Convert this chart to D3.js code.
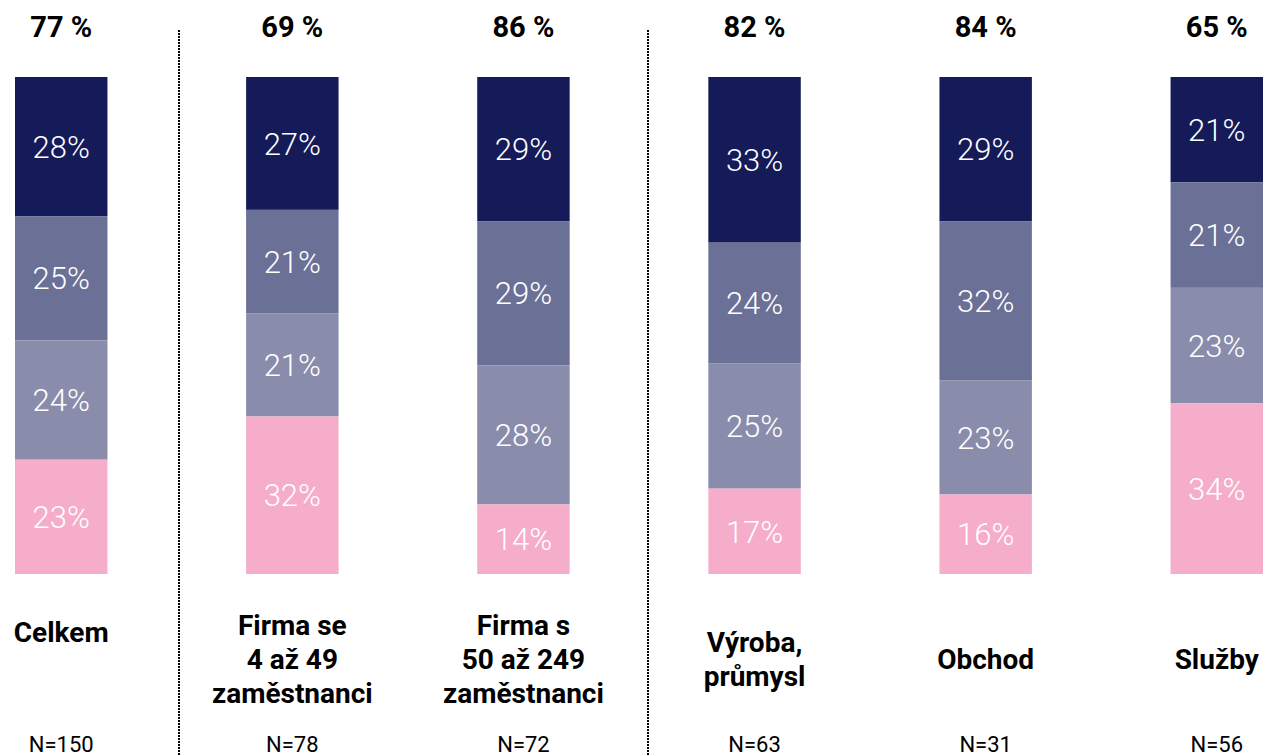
<!DOCTYPE html>
<html>
<head>
<meta charset="utf-8">
<script src="https://cdn.jsdelivr.net/npm/d3@7"></script>
<style>
  body { margin: 0; background: #fff; }
  svg { display: block; }
</style>
</head>
<body>
<div class="container"></div>
<script>
const categories = [
    ["Celkem"],
    ["Firma se", "4 až 49", "zaměstnanci"],
    ["Firma s", "50 až 249", "zaměstnanci"],
    ["Výroba,", "průmysl"],
    ["Obchod"],
    ["Služby"]
];
const totals = ["77 %", "69 %", "86 %", "82 %", "84 %", "65 %"];
const counts = ["N=150", "N=78", "N=72", "N=63", "N=31", "N=56"];

// segments from top to bottom
const seg1 = [28, 27, 29, 33, 29, 21];
const seg2 = [25, 21, 29, 24, 32, 21];
const seg3 = [24, 21, 28, 25, 23, 23];
const seg4 = [23, 32, 14, 17, 16, 34];

const colors = ["#141b58", "#6b7097", "#8a8cac", "#f5adca"];

const width = 1265;
const height = 756;

const svg = d3.select("div.container")
    .append("svg")
    .attr("width", width)
    .attr("height", height);

const x = d3.scaleBand()
    .domain(d3.range(categories.length))
    .range([15, 1263])
    .paddingInner(0.6)
    .paddingOuter(0);

const barTop = 77, barBottom = 574;
const sepX = [179, 648];

// dotted separators
sepX.forEach(function(sx) {
    svg.append("line")
        .attr("x1", sx).attr("x2", sx)
        .attr("y1", 30).attr("y2", height)
        .attr("stroke", "#000")
        .attr("stroke-width", 2)
        .attr("stroke-dasharray", "2,1");
});

const rows = categories.map((c, i) => ({
    i: i,
    vals: [seg1[i], seg2[i], seg3[i], seg4[i]]
}));

rows.forEach(function(r) {
    const sum = d3.sum(r.vals);
    const y = d3.scaleLinear().domain([0, sum]).range([barTop, barBottom]);
    let acc = 0;
    const g = svg.append("g");
    r.vals.forEach(function(v, k) {
        const y0 = y(acc), y1 = y(acc + v);
        acc += v;
        g.append("rect")
            .attr("x", x(r.i))
            .attr("y", y0)
            .attr("width", x.bandwidth())
            .attr("height", y1 - y0)
            .attr("fill", colors[k]);
        g.append("text")
            .attr("x", x(r.i) + x.bandwidth() / 2)
            .attr("y", (y0 + y1) / 2 + 3)
            .attr("text-anchor", "middle")
            .attr("dominant-baseline", "middle")
            .attr("font-family", "Roboto")
            .attr("font-weight", 300)
            .attr("font-size", 31)
            .attr("fill", "#fff")
            .text(v + "%");
    });
});

// totals on top
svg.selectAll("text.total")
    .data(totals)
    .enter()
    .append("text")
    .attr("class", "total")
    .attr("x", (d, i) => x(i) + x.bandwidth() / 2)
    .attr("y", 37)
    .attr("text-anchor", "middle")
    .attr("font-family", "Roboto")
    .attr("font-weight", 700)
    .attr("font-size", 29)
    .attr("fill", "#000")
    .text(d => d);

// category labels
categories.forEach(function(lines, i) {
    const lh = 34;
    const mid = i === 0 ? 632 : 659;
    const start = mid - (lines.length - 1) * lh / 2;
    const t = svg.append("text")
        .attr("text-anchor", "middle")
        .attr("font-family", "Roboto")
        .attr("font-weight", 700)
        .attr("font-size", 28)
        .attr("fill", "#000");
    lines.forEach(function(l, j) {
        t.append("tspan")
            .attr("x", x(i) + x.bandwidth() / 2)
            .attr("y", start + j * lh + 10)
            .text(l);
    });
});

// N counts
svg.selectAll("text.count")
    .data(counts)
    .enter()
    .append("text")
    .attr("class", "count")
    .attr("x", (d, i) => x(i) + x.bandwidth() / 2)
    .attr("y", 752)
    .attr("text-anchor", "middle")
    .attr("font-family", "Roboto")
    .attr("font-weight", 400)
    .attr("font-size", 22)
    .attr("fill", "#000")
    .text(d => d);
</script>
</body>
</html>
